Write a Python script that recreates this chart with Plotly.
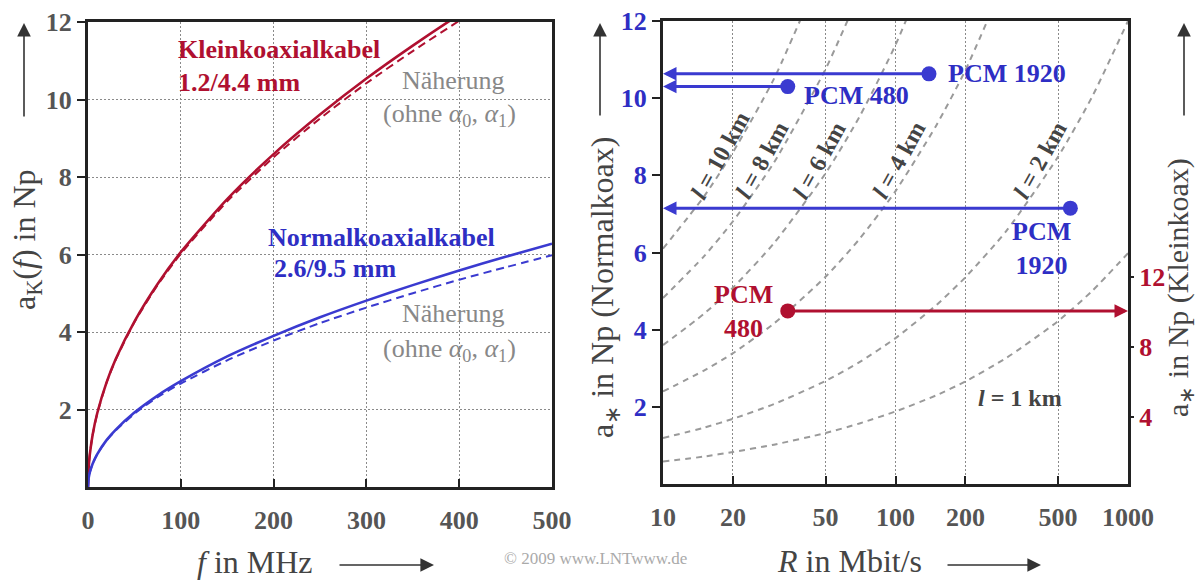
import numpy as np
import plotly.graph_objects as go

# ---------------- data ----------------
# left: attenuation a_K(f) in Np over f in MHz
f_MHz = [0, 0.5, 1, 2, 5, 10, 20, 30, 50, 75, 100, 150, 200, 250, 300, 350, 400, 450, 500]
klein_exact = [0, 0.43, 0.60, 0.85, 1.35, 1.91, 2.70, 3.31, 4.27, 5.24, 6.06, 7.43, 8.59, 9.61, 10.54, 11.39, 12.19, 12.94, 13.65]
klein_approx = [0, 0.43, 0.60, 0.85, 1.34, 1.90, 2.69, 3.29, 4.25, 5.21, 6.02, 7.37, 8.51, 9.51, 10.42, 11.25, 12.03, 12.76, 13.45]
normal_exact = [0, 0.19, 0.27, 0.38, 0.60, 0.85, 1.21, 1.48, 1.92, 2.36, 2.73, 3.37, 3.90, 4.38, 4.81, 5.21, 5.59, 5.94, 6.28]
normal_approx = [0, 0.19, 0.27, 0.38, 0.60, 0.85, 1.20, 1.46, 1.89, 2.32, 2.67, 3.27, 3.78, 4.23, 4.63, 5.00, 5.35, 5.67, 5.98]
f_ticks = [0, 100, 200, 300, 400, 500]
a_ticks = [2, 4, 6, 8, 10, 12]

# right: cable attenuation a_* (Normalkoax) over bit rate R for several lengths l
R_Mbit = [10, 15, 20, 30, 50, 70, 100, 150, 200, 300, 500, 700, 1000]
len_km = [1, 2, 4, 6, 8, 10]
a_l1 = [0.58, 0.71, 0.83, 1.02, 1.32, 1.57, 1.88, 2.30, 2.66, 3.27, 4.22, 5.00, 5.98]
a_l2 = [1.19, 1.46, 1.69, 2.07, 2.67, 3.16, 3.78, 4.64, 5.36, 6.56, 8.48, 10.03, 12.00]
a_l4 = [2.40, 2.94, 3.39, 4.16, 5.37, 6.35, 7.59, 9.30, 10.73, 13.15]
a_l6 = [3.60, 4.41, 5.09, 6.24, 8.05, 9.52, 11.38, 13.94]
a_l8 = [4.82, 5.90, 6.81, 8.33, 10.75, 12.72]
a_l10 = [6.10, 7.45, 8.60, 10.50, 13.55]

# PCM systems (Normalkoax scale, left axis) and Kleinkoax (right axis)
pcm_names = ["PCM 1920", "PCM 480", "PCM 1920"]
pcm_R = [139.3, 34.4, 565.0]
pcm_a_normal = [10.63, 10.30, 7.15]
pcm_klein_name = "PCM 480"
pcm_klein_R = [34.4]
pcm_klein_a = [10.05]

R_ticks = [10, 20, 50, 100, 200, 500, 1000]
an_ticks = [2, 4, 6, 8, 10, 12]
ak_ticks = [4, 8, 12]

# ---------------- styles ----------------
FONT = "Liberation Serif"
RED = "#b01030"
BLUE = "#3a3ad0"
BLUE_T = "#2e2ec4"
GRAY_C = "#9a9a9a"
TICK_C = "#555555"
AX_C = "#222222"
TITLE_C = "#444444"
W, H = 1200, 580

fig = go.Figure()

def line(x, y, color, width, dash=None, xa="x", ya="y"):
    fig.add_trace(go.Scatter(x=x, y=y, mode="lines", xaxis=xa, yaxis=ya,
                             line=dict(color=color, width=width, dash=dash, shape="spline", smoothing=0.6),
                             showlegend=False, hoverinfo="skip"))

line(f_MHz, klein_approx, RED, 2, "8px,5px")
line(f_MHz, klein_exact, RED, 2.6)
line(f_MHz, normal_approx, BLUE, 2, "8px,5px")
line(f_MHz, normal_exact, BLUE, 2.6)

for vals in [a_l1, a_l2, a_l4, a_l6, a_l8, a_l10]:
    line(R_Mbit[:len(vals)], vals, GRAY_C, 2, "6px,5px", "x2", "y2")

# PCM markers
fig.add_trace(go.Scatter(x=pcm_R, y=pcm_a_normal, mode="markers", xaxis="x2", yaxis="y2",
                         marker=dict(color=BLUE, size=15), showlegend=False, hoverinfo="skip"))
fig.add_trace(go.Scatter(x=pcm_klein_R, y=pcm_klein_a, mode="markers", xaxis="x2", yaxis="y3",
                         marker=dict(color=RED, size=15), showlegend=False, hoverinfo="skip"))

ann = []
# arrows from PCM points to the axes
for R, a in zip(pcm_R, pcm_a_normal):
    ann.append(dict(x=np.log10(R_ticks[0]), y=a, ax=np.log10(R), ay=a, xref="x2", yref="y2",
                    axref="x2", ayref="y2", text="", showarrow=True, arrowhead=2, arrowsize=0.9,
                    arrowwidth=3, arrowcolor=BLUE))
for R, a in zip(pcm_klein_R, pcm_klein_a):
    ann.append(dict(x=np.log10(R_ticks[-1]), y=a, ax=np.log10(R), ay=a, xref="x2", yref="y3",
                    axref="x2", ayref="y3", text="", showarrow=True, arrowhead=2, arrowsize=0.9,
                    arrowwidth=3, arrowcolor=RED))

def txt(x, y, s, xref, yref, size=26, color="#000", bold=True, xanchor="center", angle=0, align="center"):
    ann.append(dict(x=x, y=y, text=s, xref=xref, yref=yref, showarrow=False, xanchor=xanchor,
                    yanchor="middle", textangle=angle, align=align,
                    font=dict(family=FONT, size=size, color=color, weight="bold" if bold else "normal")))

# left plot labels
txt(94.8, 11.28, "Kleinkoaxialkabel", "x", "y", color=RED, xanchor="left")
txt(94.8, 10.45, "1.2/4.4 mm", "x", "y", color=RED, xanchor="left")
txt(394, 10.50, "Näherung", "x", "y", color="#888888", bold=False)
txt(390, 9.60, "(ohne <i>α</i><sub>0</sub>, <i>α</i><sub>1</sub>)", "x", "y", color="#888888", bold=False)
txt(191.8, 6.45, "Normalkoaxialkabel", "x", "y", color=BLUE_T, xanchor="left")
txt(198, 5.65, "2.6/9.5 mm", "x", "y", color=BLUE_T, xanchor="left")
txt(394, 4.49, "Näherung", "x", "y", color="#888888", bold=False)
txt(390, 3.54, "(ohne <i>α</i><sub>0</sub>, <i>α</i><sub>1</sub>)", "x", "y", color="#888888", bold=False)

# right plot labels
txt(2.217, 10.63, pcm_names[0], "x2", "y2", color=BLUE_T, xanchor="left")
txt(1.596, 10.08, pcm_names[1], "x2", "y2", color=BLUE_T, xanchor="left")
txt(2.626, 6.10, "PCM<br>1920", "x2", "y2", color=BLUE_T)
txt(1.348, 4.47, "PCM<br>480", "x2", "y2", color=RED)
txt(2.536, 2.23, "<i>l</i> = 1 km", "x2", "y2", color="#444444", size=24)
lab_pos = {10: (1.247, 8.53), 8: (1.426, 8.40), 6: (1.673, 8.40), 4: (2.015, 8.40), 2: (2.622, 8.40)}
for l in [10, 8, 6, 4, 2]:
    px, py = lab_pos[l]
    txt(px, py, f"<i>l</i> = {l} km", "x2", "y2", color="#444444", size=24, angle=-61)

# axis titles and arrows (paper)
def P(px, py):
    return px / W, 1 - py / H

def title(px, py, s, angle=0, size=32):
    x, y = P(px, py)
    ann.append(dict(x=x, y=y, xref="paper", yref="paper", text=s, showarrow=False, textangle=angle,
                    xanchor="center", yanchor="middle",
                    font=dict(family=FONT, size=size, color=TITLE_C)))

def arrow(px, py, ax, ay):
    x, y = P(px, py)
    ann.append(dict(x=x, y=y, xref="paper", yref="paper", ax=ax, ay=ay, text="", showarrow=True,
                    arrowhead=2, arrowsize=1.7, arrowwidth=1.6, arrowcolor="#333333"))

title(27, 240, "a<sub>K</sub>(<i>f</i>) in Np", angle=-90)
arrow(24, 23, 0, 95)
title(255, 562, "<i>f</i> in MHz")
arrow(434, 565, -96, 0)
title(849, 561, "<i>R</i> in Mbit/s")
arrow(1041, 565, -95, 0)
title(604, 288, "a<sub>∗</sub> in Np (Normalkoax)", angle=-90)
arrow(600, 23, 0, 94)
title(1180, 288, "a<sub>∗</sub> in Np (Kleinkoax)", angle=-90, size=30)
arrow(1184, 23, 0, 94)
cx, cy = P(595, 570)
ann.append(dict(x=cx, y=cy, xref="paper", yref="paper", text="© 2009 www.LNTwww.de", showarrow=False,
                font=dict(family=FONT, size=17, color="#aaaaaa")))

tickfont = dict(family=FONT, size=26, color=TICK_C, weight="bold")
grid = dict(showgrid=True, gridcolor="#8a8a8a", griddash="2px,2px", gridwidth=1)
frame = dict(showline=True, mirror=True, linewidth=3, linecolor=AX_C, zeroline=False, automargin=False)

fig.update_layout(
    width=W, height=H, autosize=False, margin=dict(l=0, r=0, t=0, b=0),
    paper_bgcolor="white", plot_bgcolor="white", showlegend=False,
    xaxis=dict(domain=[88 / W, 552 / W], range=[0, 500], tickvals=f_ticks, anchor="y",
               ticks="inside", ticklen=8, tickwidth=2, tickcolor=AX_C, tickfont=tickfont,
               ticklabelstandoff=8, **grid, **frame),
    yaxis=dict(domain=[1 - 487 / H, 1 - 22 / H], range=[0, 12], tickvals=a_ticks, anchor="x",
               ticks="outside", ticklen=8, tickwidth=2, tickcolor=AX_C, tickfont=tickfont,
               **grid, **frame),
    xaxis2=dict(domain=[663 / W, 1128 / W], type="log", range=[1, 3], tickvals=R_ticks,
                ticktext=[str(v) for v in R_ticks], anchor="y2",
                ticks="inside", ticklen=8, tickwidth=2, tickcolor=AX_C, tickfont=tickfont,
                ticklabelstandoff=8, **grid, **frame),
    yaxis2=dict(domain=[1 - 484 / H, 1 - 21 / H], range=[0, 12], tickvals=an_ticks, anchor="x2",
                ticks="outside", ticklen=8, tickwidth=2, tickcolor=AX_C, showgrid=False,
                tickfont=dict(family=FONT, size=26, color=BLUE_T, weight="bold"), **frame),
    yaxis3=dict(overlaying="y2", side="right", anchor="x2", range=[0.2, 26.55], tickvals=ak_ticks,
                ticks="outside", ticklen=5, tickwidth=2, tickcolor=AX_C, showgrid=False,
                showline=False, zeroline=False, automargin=False,
                tickfont=dict(family=FONT, size=26, color=RED, weight="bold")),
    annotations=ann,
)

fig.write_html("out.html")
